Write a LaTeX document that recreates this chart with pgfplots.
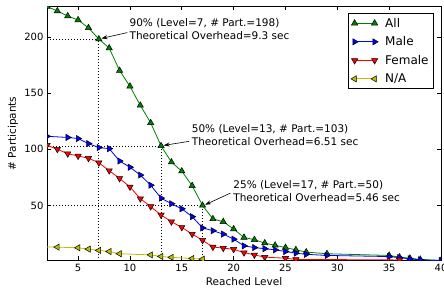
\documentclass[border=0pt]{standalone}
\usepackage{pgfplots}
\pgfplotsset{compat=1.18}
\usetikzlibrary{arrows.meta}
\usepackage{fontspec}
\setmainfont{DejaVu Sans}
\definecolor{mgreen}{rgb}{0,0.5,0}
\definecolor{myellow}{rgb}{0.75,0.75,0}
\begin{document}
\begin{tikzpicture}
\begin{axis}[
  scale only axis, width=394pt, height=254pt,
  xmin=2, xmax=40, ymin=1, ymax=227,
  xtick={5,10,...,40}, ytick={50,100,150,200},
  tick align=inside, major tick length=4pt,
  axis line style={line width=0.8pt},
  every tick/.style={black, line width=0.6pt},
  /pgf/number format/assume math mode=true,
  tick label style={font=\fontsize{10}{12}\selectfont},
  xlabel={Reached Level}, ylabel={\# Participants},
  label style={font=\fontsize{10.5}{12}\selectfont},
  xlabel style={at={(axis description cs:0.5,-0.083)}, anchor=center},
  ylabel style={at={(axis description cs:-0.0863,0.5)}, anchor=center, rotate=0},
  clip marker paths=true,
  legend cell align=left,
  legend style={at={(1,1)}, anchor=north east, xshift=-7pt, yshift=-7pt,
    font=\fontsize{12}{14}\selectfont, draw=black, line width=0.8pt, row sep=4pt,
    /tikz/every odd column/.append style={column sep=5pt}},
  legend image code/.code={\draw[mark repeat=1,#1] plot coordinates {(0pt,0pt)(20pt,0pt)};},
]
% guide lines
\addplot[forget plot, black, line width=0.7pt, dash pattern=on 1pt off 2pt] coordinates {(2,198)(7,198)(7,1)};
\addplot[forget plot, black, line width=0.7pt, dash pattern=on 1pt off 2pt] coordinates {(2,103)(13,103)(13,1)};
\addplot[forget plot, black, line width=0.7pt, dash pattern=on 1pt off 2pt] coordinates {(2,50)(17,50)(17,1)};

\addplot[mgreen, line width=0.8pt, mark=triangle*, mark size=3.6pt,
  mark options={fill=mgreen, draw=black, line width=0.5pt}] coordinates {
(2,227)(3,223)(4,218.5)(5,215)(6,208)(7,198)(8,190)(9,170)(10,156)(11,139)(12,123.5)
(13,103)(14,88.5)(15,80.5)(16,67.5)(17,50)(18,38)(19,35.5)(20,29)(21,21.5)(22,19.5)
(23,16.5)(24,14.5)(25,12.5)(26,10.5)(27,8.5)(29,7)(35,5.5)(36,4)(37,3)(38,2)(40,1)};
\addlegendentry{All}

\addplot[blue, line width=0.8pt, mark=triangle*, mark size=3.6pt,
  mark options={fill=blue, draw=black, line width=0.5pt, rotate=-90}] coordinates {
(2,111.5)(4,110.5)(5,109.5)(6,105)(7,101.5)(8,100.5)(9,89.5)(10,84)(11,77)(12,68)
(13,56.5)(14,51.5)(15,47)(16,40)(17,30)(18,27.5)(19,24.5)(20,20)(21,14)(22,12.5)
(23,11.5)(24,10.5)(25,9)(26,7.5)(27,6.5)(29,5.5)(35,4.5)(36,3.5)(37,2.5)(38,1.5)(40,1)};
\addlegendentry{Male}

\addplot[red, line width=0.8pt, mark=triangle*, mark size=3.6pt,
  mark options={fill=red, draw=black, line width=0.5pt, rotate=180}] coordinates {
(2,103.5)(3,100)(4,96)(5,94)(6,92)(7,88)(8,81)(9,74)(10,66.5)(11,56)(12,49)
(13,41.5)(14,35.5)(15,30.5)(16,24.5)(17,19)(18,13)(19,12)(20,11)(21,8)(22,6)
(23,4)(25,3)(26,2)(36,1.5)};
\addlegendentry{Female}

\addplot[myellow, line width=0.8pt, mark=triangle*, mark size=3.6pt,
  mark options={fill=myellow, draw=black, line width=0.5pt, rotate=90}] coordinates {
(1,13.3)(3,12.9)(5,12.3)(6,11.1)(7,10)(8,9)(9,7)(12,6)(13,4.6)(14,3.8)(16,2.8)(17,2.2)};
\addlegendentry{N/A}

\node[anchor=west, align=left, font=\fontsize{10.5}{13}\selectfont, inner sep=0pt]
  at (axis cs:9.95,206.6) {90\% (Level=7, \# Part.=198)\\Theoretical Overhead=9.3 sec};
\node[anchor=west, align=left, font=\fontsize{10.5}{13}\selectfont, inner sep=0pt]
  at (axis cs:15.95,112.6) {50\% (Level=13, \# Part.=103)\\Theoretical Overhead=6.51 sec};
\node[anchor=west, align=left, font=\fontsize{10.5}{13}\selectfont, inner sep=0pt]
  at (axis cs:19.96,63.1) {25\% (Level=17, \# Part.=50)\\Theoretical Overhead=5.46 sec};
\draw[-{Stealth[length=6pt,width=4pt]}, line width=0.6pt] (axis cs:9.75,203.8) -- (axis cs:7.25,198.6);
\draw[-{Stealth[length=6pt,width=4pt]}, line width=0.6pt] (axis cs:15.7,107) -- (axis cs:13.25,103.4);
\draw[-{Stealth[length=6pt,width=4pt]}, line width=0.6pt] (axis cs:19.7,61) -- (axis cs:17.25,50.6);
\end{axis}
\pgfresetboundingbox
\path ([xshift=-47pt,yshift=-30.3pt]current axis.south west) rectangle ([xshift=3pt,yshift=6.5pt]current axis.north east);
\end{tikzpicture}
\end{document}
